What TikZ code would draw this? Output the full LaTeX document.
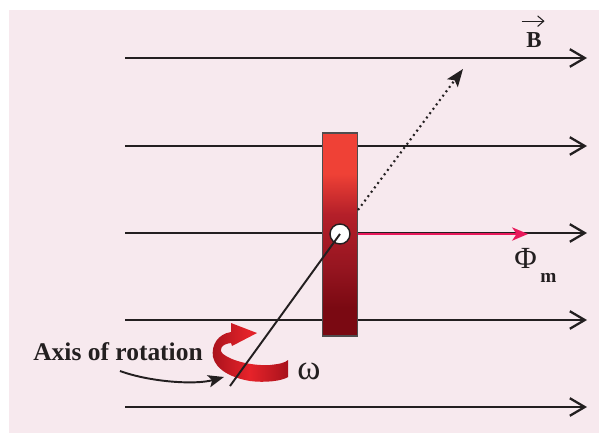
\documentclass[tikz,border=0pt]{standalone}
\usepackage{fontspec}
\setmainfont{Liberation Serif}
\usetikzlibrary{arrows.meta}
\definecolor{bgpink}{HTML}{F7E9EE}
\definecolor{ink}{HTML}{231F20}
\definecolor{coiltop}{HTML}{EF4136}
\definecolor{coilmid}{HTML}{B41F29}
\definecolor{coildeep}{HTML}{961520}
\definecolor{coilbot}{HTML}{7A0912}
\definecolor{fluxred}{HTML}{E8195B}
\definecolor{ribdark}{HTML}{A8121C}
\definecolor{ribred}{HTML}{E6232A}
% coil face: bright red on top, darkening towards the bottom
\pgfdeclareverticalshading{coilshade}{100bp}{color(0bp)=(coilbot); color(25bp)=(coilbot);
  color(32bp)=(coilbot); color(42bp)=(coildeep); color(55bp)=(coilmid);
  color(65bp)=(coiltop); color(75bp)=(coiltop); color(100bp)=(coiltop)}
\tikzset{
  fieldline/.style={draw=ink, line width=1.4pt, -{Straight Barb[length=8.5pt,width=10pt,line width=1.3pt]}},
  axisline/.style={draw=ink, line width=1.1pt},
  dotline/.style={draw=ink, line width=1.2pt, dash pattern=on 1.1pt off 2pt, -{Stealth[length=10pt,width=7.5pt,inset=2pt]}},
  fluxarrow/.style={draw=fluxred, line width=1.3pt, -{Stealth[length=9pt,width=7.5pt,inset=2.5pt]}},
  lbl/.style={inner sep=0pt, text=ink, anchor=base west},
}
\begin{document}
\begin{tikzpicture}[x=0.02cm,y=-0.02cm]
\useasboundingbox (0,0) rectangle (599,433);
\fill[bgpink] (9,10) rectangle (599,433);

% field lines of B
\foreach \yy [count=\i] in {58,146,233,320,407}{
  \coordinate (fs\i) at (125,\yy);
  \coordinate (fe\i) at (587,\yy);
  \draw[fieldline] (fs\i) -- (fe\i);
}

% coil seen edge-on and its pivot
\node (coil) [draw=ink!80, line width=0.6pt, minimum width=0.7cm, minimum height=4.06cm,
  inner sep=0pt, shading=coilshade] at (340,234.5) {};
\node (pivot) [circle, draw=ink, line width=0.8pt, fill=white, minimum size=0.4cm, inner sep=0pt] at (340,234) {};

% rotation ribbon around the axis
\shade[left color=ribdark, right color=ribdark, middle color=ribred]
  (231,323) -- (257,333) -- (232,346) -- (231,343)
  .. controls (222,344) and (218,349) .. (223,354)
  .. controls (232,361) and (252,366) .. (270,365)
  .. controls (279,364) and (285,363) .. (288,360)
  -- (288,377)
  .. controls (282,381) and (265,383) .. (250,381)
  .. controls (232,378) and (216,370) .. (213,357)
  .. controls (211,345) and (218,334) .. (231,332) -- cycle;

% axis of rotation
\coordinate (axisend) at (230,386);
\draw[axisline] (pivot.center) -- (axisend);

% normal of the coil
\coordinate (dotstart) at (358,210);
\coordinate (normtip) at (463,69);
\draw[dotline] (dotstart) -- (normtip);

% magnetic flux
\coordinate (fluxtip) at (528,234);
\draw[fluxarrow] (coil.east |- pivot.center) -- (fluxtip);

% labels
\node (axislbl) [lbl, font=\fontsize{14.5}{16}\selectfont\bfseries] at (33,360) {Axis of rotation};
\coordinate (lblfrom) at (120,371);
\coordinate (axispt) at (224,377);
\draw[ink, line width=1.1pt, -{Stealth[length=9pt,width=7pt,inset=2pt]}]
  (lblfrom) .. controls (150,382) and (195,385) .. (axispt);

\node (omega) [lbl, font=\fontsize{20}{22}\selectfont] at (297,379) {ω};
\node (phi) [lbl, font=\fontsize{17.5}{19}\selectfont] at (514,268) {Φ};
\node (phisub) [lbl, font=\fontsize{11}{12}\selectfont\bfseries] at (540,282) {m};
\node (blbl) [lbl, font=\fontsize{13}{15}\selectfont\bfseries] at (526,47) {B};
\draw[ink, line width=0.6pt, -{Straight Barb[length=3.5pt,width=6pt,line width=0.6pt]}]
  ([xshift=-2.5pt,yshift=6pt]blbl.north west) -- ([xshift=1.5pt,yshift=6pt]blbl.north east);
\end{tikzpicture}
\end{document}
